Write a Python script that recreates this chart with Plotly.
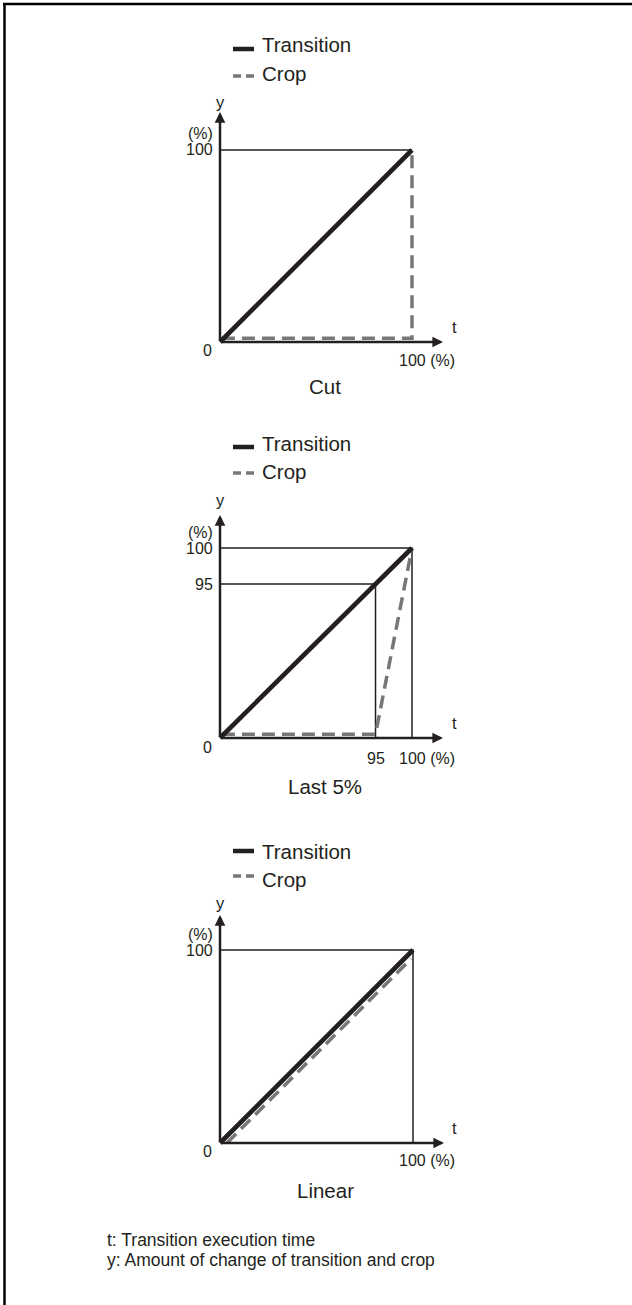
import plotly.graph_objects as go

W, H = 632, 1305

# ---------------- data ----------------
panel_titles = ["Cut", "Last 5%", "Linear"]
legend_labels = ["Transition", "Crop"]
footer_lines = ["t: Transition execution time",
                "y: Amount of change of transition and crop"]

# transition (same in every panel)
transition_t = [0, 100]
transition_y = [0, 100]

# Cut
cut_crop_t = [1, 100, 100]
cut_crop_y = [2, 2, 100]
cut_guide_t = [0, 100]
cut_guide_y = [100, 100]

# Last 5 %  (schematic: the "95" break is drawn at ~81 % of the box)
last5_break = 81
last5_crop_t = [1, last5_break, 100]
last5_crop_y = [2, 2, 100]
last5_guide_t = [0, 100, 100]
last5_guide_y = [100, 100, 0]
last5_guide2_t = [0, last5_break, last5_break]
last5_guide2_y = [last5_break, last5_break, 0]

# Linear
linear_crop_t = [3.6, 99]
linear_crop_y = [0, 95.4]
linear_guide_t = [0, 100, 100]
linear_guide_y = [100, 100, 0]

# tick labels
y_tick_vals = [[100], [100, last5_break], [100]]
y_tick_text = [["100"], ["100", "95"], ["100"]]
x_tick_vals = [[100], [last5_break, 100], [100]]
x_tick_text = [["100 (%)"], ["95", "100 (%)"], ["100 (%)"]]

# ---------------- styles ----------------
FONT = "Liberation Sans, Arial, Helvetica, sans-serif"
INK = "#231f20"
GREY = "#777777"
TRANS_W = 4.6
CROP_W = 3.5
CROP_DASH = "13px,7px"
THIN_W = 1.5

# panel pixel geometry: origin (ox, oy), px per unit (sx, sy)
panels = [
    dict(ox=220, oy=342, sx=1.92, sy=1.92, ytip=112, xtip=443,
         leg=(49, 76, 45, 74), ylab=102, pct=133, zero=350, xlab=360,
         tlab=327, title=387),
    dict(ox=220, oy=738, sx=1.92, sy=1.90, ytip=515, xtip=443,
         leg=(447, 473, 444, 471), ylab=500, pct=532, zero=747, xlab=758,
         tlab=723, title=786),
    dict(ox=220, oy=1143, sx=1.93, sy=1.93, ytip=915, xtip=444,
         leg=(851, 876, 851, 879), ylab=903, pct=934, zero=1151, xlab=1160,
         tlab=1128, title=1190),
]

fig = go.Figure()
layout_axes = {}
annotations = []
shapes = []

series = [
    (cut_crop_t, cut_crop_y, [(cut_guide_t, cut_guide_y)]),
    (last5_crop_t, last5_crop_y, [(last5_guide_t, last5_guide_y),
                                  (last5_guide2_t, last5_guide2_y)]),
    (linear_crop_t, linear_crop_y, [(linear_guide_t, linear_guide_y)]),
]


def txt(s, x, y, size, xanchor="center", xref="paper", yref="paper"):
    annotations.append(dict(text=s, x=x, y=y, xref=xref, yref=yref,
                            xanchor=xanchor, yanchor="middle", showarrow=False,
                            borderpad=0,
                            font=dict(family=FONT, size=size, color=INK)))


for i, p in enumerate(panels):
    n = "" if i == 0 else str(i + 1)
    xa, ya = "x" + n, "y" + n
    left, right = 185, 470
    top, bottom = p["oy"] - 240, p["oy"] + 25
    xr = [(left - p["ox"]) / p["sx"], (right - p["ox"]) / p["sx"]]
    yr = [(p["oy"] - bottom) / p["sy"], (p["oy"] - top) / p["sy"]]
    layout_axes["xaxis" + n] = dict(domain=[left / W, right / W], range=xr,
                                    visible=False, anchor=ya, fixedrange=True)
    layout_axes["yaxis" + n] = dict(domain=[1 - bottom / H, 1 - top / H], range=yr,
                                    visible=False, anchor=xa, fixedrange=True)

    crop_t, crop_y, guides = series[i]
    for gt, gy in guides:
        fig.add_trace(go.Scatter(x=gt, y=gy, mode="lines", xaxis=xa, yaxis=ya,
                                 line=dict(color=INK, width=THIN_W),
                                 hoverinfo="skip", showlegend=False))
    fig.add_trace(go.Scatter(x=crop_t, y=crop_y, mode="lines", xaxis=xa, yaxis=ya,
                             line=dict(color=GREY, width=CROP_W, dash=CROP_DASH),
                             name=legend_labels[1], showlegend=False))
    fig.add_trace(go.Scatter(x=transition_t, y=transition_y, mode="lines",
                             xaxis=xa, yaxis=ya,
                             line=dict(color=INK, width=TRANS_W),
                             name=legend_labels[0], showlegend=False))

    # axis arrows
    xtip = (p["xtip"] - p["ox"]) / p["sx"]
    ytip = (p["oy"] - p["ytip"]) / p["sy"]
    for (tx, ty) in [(xtip, 0), (0, ytip)]:
        annotations.append(dict(x=tx, y=ty, ax=0, ay=0, xref=xa, yref=ya,
                                axref=xa, ayref=ya, text="", showarrow=True,
                                arrowhead=2, arrowsize=0.85, arrowwidth=2.5,
                                arrowcolor=INK, standoff=0))

    # axis labels
    txt("y", 220 / W, 1 - p["ylab"] / H, 16.5)
    txt("t", 455 / W, 1 - p["tlab"] / H, 16.5)
    txt("(%)", 214 / W, 1 - p["pct"] / H, 16, xanchor="right")
    txt("0", 207 / W, 1 - p["zero"] / H, 16)
    for v, s in zip(y_tick_vals[i], y_tick_text[i]):
        txt(s, 214 / W, v, 16, xanchor="right", yref=ya)
    for v, s in zip(x_tick_vals[i], x_tick_text[i]):
        if s == "100 (%)":
            txt(s, 398 / W, 1 - p["xlab"] / H, 16, xanchor="left")
        else:
            txt(s, v, 1 - p["xlab"] / H, 16, xref=xa)
    txt(panel_titles[i], 325 / W, 1 - p["title"] / H, 20.5)

    # legend
    ls_t, ls_c, lt_t, lt_c = p["leg"]
    shapes.append(dict(type="line", xref="paper", yref="paper",
                       x0=233 / W, x1=254 / W, y0=1 - ls_t / H, y1=1 - ls_t / H,
                       line=dict(color=INK, width=4.5)))
    shapes.append(dict(type="line", xref="paper", yref="paper",
                       x0=233 / W, x1=254 / W, y0=1 - ls_c / H, y1=1 - ls_c / H,
                       line=dict(color=GREY, width=3.5, dash="8px,5px")))
    txt(legend_labels[0], 261 / W, 1 - lt_t / H, 20.5, xanchor="left")
    txt(legend_labels[1], 261 / W, 1 - lt_c / H, 20.5, xanchor="left")

# footer
txt(footer_lines[0], 106 / W, 1 - 1240 / H, 17.5, xanchor="left")
txt(footer_lines[1], 106 / W, 1 - 1260 / H, 17.5, xanchor="left")

# page frame (top and left rules)
shapes.append(dict(type="line", xref="paper", yref="paper", x0=3 / W, x1=1.0,
                   y0=1 - 4 / H, y1=1 - 4 / H, line=dict(color="#000000", width=2.5)))
shapes.append(dict(type="line", xref="paper", yref="paper", x0=4.5 / W, x1=4.5 / W,
                   y0=1 - 3 / H, y1=0, line=dict(color="#000000", width=2.5)))

fig.update_layout(width=W, height=H, margin=dict(l=0, r=0, t=0, b=0),
                  paper_bgcolor="white", plot_bgcolor="rgba(0,0,0,0)",
                  showlegend=False, annotations=annotations, shapes=shapes,
                  **layout_axes)

fig.write_html("out.html", config={"displayModeBar": False},
               post_script="document.body.style.margin='0';"
                           "document.body.style.overflow='hidden';")
